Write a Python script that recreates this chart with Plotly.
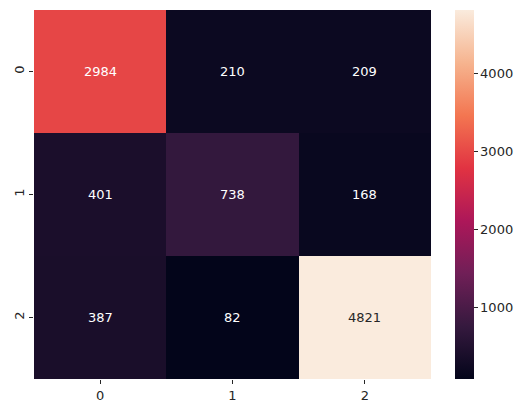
import plotly.graph_objects as go

# confusion matrix values (rows = true, cols = predicted)
labels = ["0", "1", "2"]
row0 = [2984, 210, 209]
row1 = [401, 738, 168]
row2 = [387, 82, 4821]
matrix = [row0, row1, row2]

cbar_ticks = [1000, 2000, 3000, 4000]

# seaborn "rocket" colormap, sampled
rocket = [
    [0.0, "#03051a"],
    [1 / 7, "#35193e"],
    [2 / 7, "#701f57"],
    [3 / 7, "#ad1759"],
    [4 / 7, "#e13342"],
    [5 / 7, "#f37651"],
    [6 / 7, "#f6b48f"],
    [1.0, "#faebdd"],
]

zmin = min(min(r) for r in matrix)
zmax = max(max(r) for r in matrix)

fig = go.Figure(go.Heatmap(
    z=matrix, x=labels, y=labels,
    colorscale=rocket, zmin=zmin, zmax=zmax,
    xgap=0, ygap=0,
    colorbar=dict(
        thickness=19, len=1, lenmode="fraction", y=0.5, yanchor="middle",
        x=1.0605, xanchor="left", xpad=0, ypad=0,
        outlinewidth=0, tickvals=cbar_ticks, ticks="outside", ticklen=4,
        tickcolor="#262626", tickfont=dict(size=13, color="#262626"),
    ),
    hoverinfo="skip",
))

# cell annotations, light text on dark cells and dark on light ones
for i, row in enumerate(matrix):
    for j, v in enumerate(row):
        frac = (v - zmin) / (zmax - zmin)
        fig.add_annotation(
            x=labels[j], y=labels[i], text=str(v), showarrow=False,
            font=dict(size=13, color="#262626" if frac > 0.8 else "white"),
        )

fig.update_xaxes(
    showgrid=False, zeroline=False, showline=False,
    ticks="outside", ticklen=4, tickcolor="#262626",
    tickfont=dict(size=13, color="#262626"),
)
fig.update_yaxes(
    autorange="reversed", showgrid=False, zeroline=False, showline=False,
    ticks="outside", ticklen=4, tickcolor="#262626", tickangle=-90,
    tickfont=dict(size=13, color="#262626"),
)

# page body has an 8px margin, so the figure is sized to fit inside it
fig.update_layout(
    width=520, height=405,
    margin=dict(l=26, r=97, t=2, b=34),
    font=dict(family="DejaVu Sans"),
    plot_bgcolor="white", paper_bgcolor="white",
)

fig.write_html("out.html")
